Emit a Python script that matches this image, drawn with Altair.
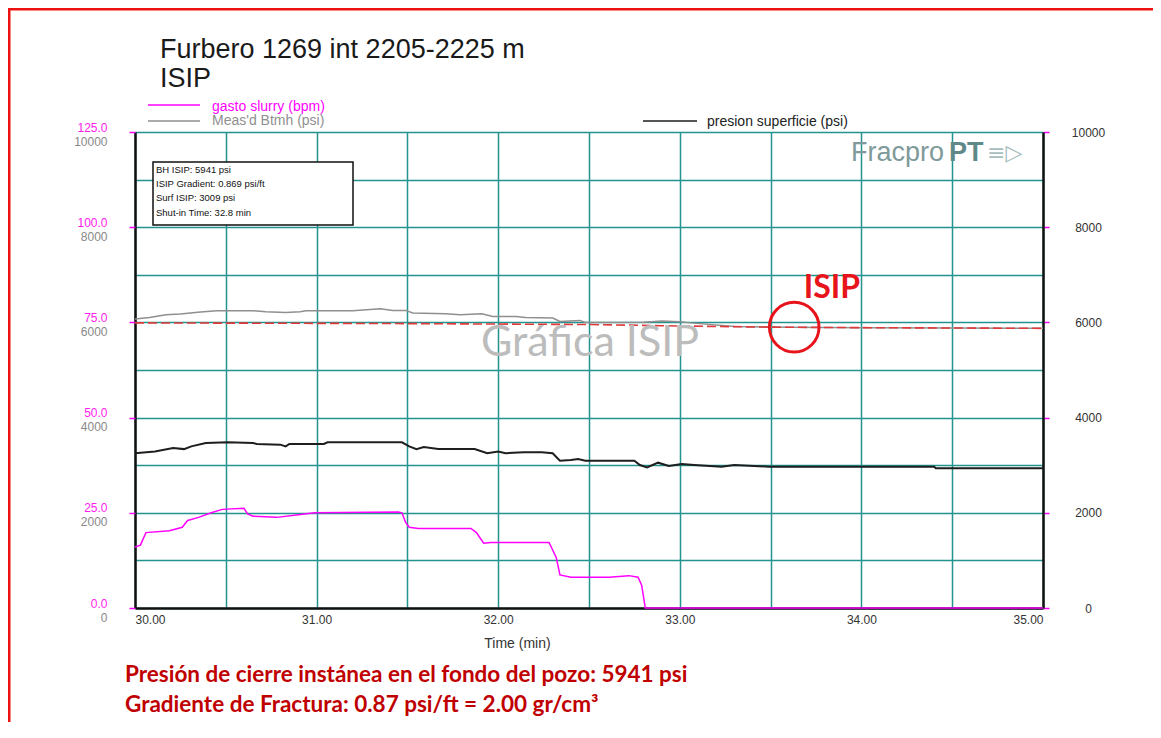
import altair as alt
import pandas as pd

# ---------------- data ----------------
slurry_time = [30.00, 30.03, 30.06, 30.19, 30.26, 30.29, 30.35, 30.42, 30.48, 30.60, 30.62,
               30.65, 30.78, 30.90, 30.99, 31.45, 31.47, 31.49, 31.51, 31.56, 31.85, 31.88,
               31.92, 31.96, 32.28, 32.32, 32.34, 32.40, 32.61, 32.72, 32.77, 32.79, 32.81, 35.00]
slurry_bpm = [16.0, 16.5, 19.8, 20.3, 21.2, 23.0, 23.8, 25.0, 25.9, 26.2, 24.7,
              24.1, 23.8, 24.5, 25.0, 25.2, 25.0, 22.5, 21.2, 20.9, 20.9, 19.8,
              17.0, 17.2, 17.2, 13.2, 8.7, 8.1, 8.1, 8.5, 8.1, 6.0, 0.0, 0.0]

btmh_time = [30.00, 30.08, 30.17, 30.25, 30.36, 30.45, 30.65, 30.72, 30.83, 30.91, 30.94,
             31.20, 31.35, 31.42, 31.49, 31.53, 31.71, 31.79, 31.91, 31.97, 32.10, 32.15,
             32.30, 32.34, 32.45, 32.48, 32.80, 32.90, 33.00, 33.06, 33.30, 33.60, 34.00,
             34.50, 35.00]
btmh_psi = [6070, 6105, 6161, 6175, 6217, 6245, 6245, 6224, 6210, 6224, 6245,
            6245, 6287, 6252, 6252, 6196, 6182, 6161, 6182, 6126, 6126, 6105,
            6091, 6021, 6042, 6000, 6005, 6030, 6015, 5990, 5915, 5898, 5890,
            5882, 5875]

surf_time = [30.00, 30.11, 30.21, 30.27, 30.31, 30.39, 30.51, 30.65, 30.67, 30.80, 30.83,
             30.85, 31.04, 31.06, 31.47, 31.51, 31.55, 31.59, 31.67, 31.87, 31.94, 32.00,
             32.04, 32.14, 32.24, 32.30, 32.34, 32.40, 32.44, 32.48, 32.75, 32.78, 32.82,
             32.88, 32.94, 33.01, 33.08, 33.23, 33.30, 33.41, 33.49, 34.40, 34.41, 35.00]
surf_psi = [3252, 3288, 3360, 3338, 3396, 3468, 3482, 3468, 3446, 3432, 3396,
            3446, 3446, 3482, 3482, 3396, 3338, 3382, 3338, 3338, 3252, 3288,
            3252, 3274, 3274, 3252, 3094, 3108, 3130, 3094, 3094, 3004, 2955,
            3053, 2983, 3025, 3004, 2969, 3004, 2983, 2969, 2969, 2934, 2934]

isip_line_time = [30.0, 31.5, 32.5, 33.0, 33.5, 34.0, 35.0]
isip_line_psi = [5990, 5975, 5955, 5925, 5900, 5890, 5875]

isip_point_time = [33.63]
isip_point_psi = [5900]

x_grid_values = [30.0, 30.5, 31.0, 31.5, 32.0, 32.5, 33.0, 33.5, 34.0, 34.5, 35.0]
psi_grid_values = [0, 1000, 2000, 3000, 4000, 5000, 6000, 7000, 8000, 9000, 10000]
psi_label_values = [0, 2000, 4000, 6000, 8000, 10000]
bpm_label_values = [0, 25, 50, 75, 100, 125]

title_lines = ["Furbero 1269 int 2205-2225 m", "ISIP"]
legend_labels = ["gasto slurry (bpm)", "Meas'd Btmh (psi)", "presion superficie (psi)"]
info_lines = ["BH ISIP: 5941 psi", "ISIP Gradient: 0.869 psi/ft", "Surf ISIP: 3009 psi",
              "Shut-in Time: 32.8 min"]
bottom_lines = ["Presión de cierre instánea en el fondo del pozo: 5941 psi",
                "Gradiente de Fractura: 0.87 psi/ft = 2.00 gr/cm³"]
x_title = "Time (min)"
watermark = "Gráfica ISIP"
isip_label = "ISIP"
logo_parts = ["Fracpro", "PT", "≡▷"]

# ---------------- styles ----------------
TEAL = "#22948f"
MAGENTA = "#ff00ff"
GRAY = "#8f8f8f"
BLACK = "#1e1e1e"
RED = "#e8141c"
DARKRED = "#c00000"
FONT = "Liberation Sans"

df_slurry = pd.DataFrame({"t": slurry_time, "bpm": slurry_bpm})
df_btmh = pd.DataFrame({"t": btmh_time, "psi": btmh_psi})
df_surf = pd.DataFrame({"t": surf_time, "psi": surf_psi})
df_isip_line = pd.DataFrame({"t": isip_line_time, "psi": isip_line_psi})
df_isip_pt = pd.DataFrame({"t": isip_point_time, "psi": isip_point_psi})

x_axis = alt.Axis(
    values=x_grid_values,
    labelExpr="datum.value % 1 == 0 ? format(datum.value, '.2f') : ''",
    grid=True, gridColor=TEAL, gridWidth=1.5, gridOpacity=1,
    ticks=False, domainColor="#111", domainWidth=2.5,
    labelFlush=True, labelFont=FONT, labelFontSize=12, labelColor="#333",
    labelPadding=6, labelOverlap=False,
    title=x_title, titleFont=FONT, titleFontSize=14, titleFontWeight="normal",
    titleColor="#333", titleX=382, titleY=35, titleAlign="center", titleBaseline="middle",
)
x_enc = alt.X("t:Q", scale=alt.Scale(domain=[30, 35], nice=False, zero=False), axis=x_axis)

psi_left_axis = alt.Axis(
    orient="left", values=psi_grid_values,
    labelExpr="datum.value % 2000 == 0 ? format(datum.value, 'd') : ''",
    grid=True, gridColor=TEAL, gridWidth=1.5, gridOpacity=1,
    ticks=False, domainColor="#111", domainWidth=2.5,
    labelFont=FONT, labelFontSize=12, labelColor="#888", labelAlign="right",
    labelPadding=28, labelOffset=9, labelOverlap=False, title=None,
)
psi_y = alt.Y("psi:Q", scale=alt.Scale(domain=[0, 10000], nice=False), axis=psi_left_axis)

bpm_axis = alt.Axis(
    orient="left", values=bpm_label_values, format=".1f",
    grid=False, domain=False, ticks=True, tickColor=MAGENTA, tickSize=6, tickWidth=1.5,
    labelFont=FONT, labelFontSize=12, labelColor="#ff22ee", labelAlign="right",
    labelPadding=22, labelOffset=-5, labelOverlap=False, title=None,
)
bpm_y = alt.Y("bpm:Q", scale=alt.Scale(domain=[0, 125], nice=False), axis=bpm_axis)

right_axis = alt.Axis(
    orient="right", values=psi_label_values, format="d",
    grid=False, domainColor="#111", domainWidth=2.5,
    ticks=True, tickColor=MAGENTA, tickSize=6, tickWidth=1.5,
    labelFont=FONT, labelFontSize=12, labelColor="#333", labelAlign="center",
    labelPadding=39, labelOverlap=False, title=None,
)
right_y = alt.Y("psi:Q", scale=alt.Scale(domain=[0, 10000], nice=False), axis=right_axis)

# ---------------- data layers ----------------
gray_line = alt.Chart(df_btmh).mark_line(color=GRAY, strokeWidth=1.5).encode(x=x_enc, y=psi_y)
black_line = alt.Chart(df_surf).mark_line(color=BLACK, strokeWidth=2).encode(x=x_enc, y=psi_y)
psi_layer = alt.layer(gray_line, black_line)

bpm_layer = alt.Chart(df_slurry).mark_line(color=MAGENTA, strokeWidth=1.5).encode(x=x_enc, y=bpm_y)

red_line = alt.Chart(df_isip_line).mark_line(
    color="#e03a3a", strokeWidth=1.6, strokeDash=[9, 4]).encode(x=x_enc, y=right_y)
isip_circle = alt.Chart(df_isip_pt).mark_point(
    shape="circle", filled=False, size=2460, color=RED, strokeWidth=3, opacity=1
).encode(x=x_enc, y=right_y)
right_layer = alt.layer(red_line, isip_circle)


# ---------------- decorations ----------------
def label(text, x, y, size, color, font=FONT, weight="normal", align="left", baseline="middle"):
    return alt.Chart(pd.DataFrame({"txt": [text]})).mark_text(
        align=align, baseline=baseline, fontSize=size, font=font,
        fontWeight=weight, color=color
    ).encode(x=alt.value(x), y=alt.value(y), text="txt:N")


def hline(x1, x2, y, color, width):
    return alt.Chart(pd.DataFrame({"k": [0]})).mark_rule(
        color=color, strokeWidth=width).encode(x=alt.value(x1), x2=alt.value(x2), y=alt.value(y))


def vline(x, y1, y2, color, width):
    return alt.Chart(pd.DataFrame({"k": [0]})).mark_rule(
        color=color, strokeWidth=width).encode(x=alt.value(x), y=alt.value(y1), y2=alt.value(y2))


decor = [
    # red frame of the picture
    hline(-127, 1018, -123, "#ee1111", 3),
    vline(-126, -124, 590, "#ee1111", 3),
    # titles
    label(title_lines[0], 25, -74, 27, "#1a1a1a", baseline="alphabetic"),
    label(title_lines[1], 25, -45, 27, "#1a1a1a", baseline="alphabetic"),
    # legend
    hline(13, 65, -27, MAGENTA, 1.5),
    label(legend_labels[0], 77, -25, 14, MAGENTA),
    hline(13, 65, -11, GRAY, 1.5),
    label(legend_labels[1], 77, -11, 14, GRAY),
    hline(508, 562, -11, BLACK, 1.5),
    label(legend_labels[2], 572, -10, 14, "#222"),
    # info box
    alt.Chart(pd.DataFrame({"k": [0]})).mark_rect(
        fill="white", stroke="#111", strokeWidth=1.5
    ).encode(x=alt.value(18), x2=alt.value(218), y=alt.value(30), y2=alt.value(93)),
    label(info_lines[0], 21, 38, 9.5, "#111"),
    label(info_lines[1], 21, 52, 9.5, "#111"),
    label(info_lines[2], 21, 66, 9.5, "#111"),
    label(info_lines[3], 21, 81, 9.5, "#111"),
    # logo
    label(logo_parts[0], 716, 21, 27, "#7f9a9a"),
    label(logo_parts[1], 814, 21, 27, "#5f8888", weight="bold"),
    label(logo_parts[2], 852, 21, 22, "#a8bebe", font="DejaVu Sans"),
    # watermark and ISIP annotation
    label(watermark, 455, 211, 43, "#bcbcbc", font="Lato", align="center"),
    label(isip_label, 697, 156, 32, RED, font="Lato", weight="bold", align="center"),
    # bottom notes
    label(bottom_lines[0], -10, 543, 22.5, DARKRED, font="Lato", weight="bold"),
    label(bottom_lines[1], -10, 573, 22.5, DARKRED, font="Lato", weight="bold"),
]

chart = alt.layer(psi_layer, bpm_layer, right_layer, *decor).resolve_scale(
    y="independent"
).properties(
    width=908, height=476,
    autosize=alt.AutoSizeParams(type="none"),
    padding={"left": 127, "top": 124, "right": 110, "bottom": 114},
).configure_view(stroke="#444", strokeWidth=1).configure(background="white")

chart.save("out.html", embed_options={"renderer": "svg", "actions": False})
